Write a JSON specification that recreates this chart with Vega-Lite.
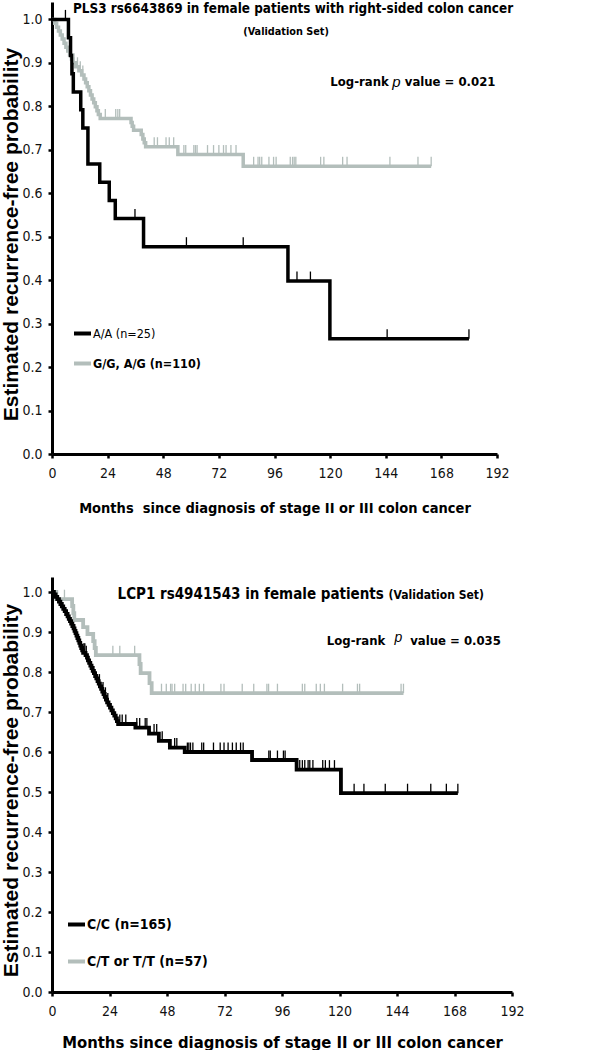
{
"$schema": "https://vega.github.io/schema/vega-lite/v6.json",
"background": "white",
"padding": {"left": 0, "top": 2, "right": 0, "bottom": 0},
"bounds": "flush",
"spacing": 123,
"config": {
  "view": {"stroke": null},
  "font": "DejaVu Sans Condensed, sans-serif",
  "axis": {"grid": false, "domainColor": "#000", "domainWidth": 3, "tickColor": "#000", "tickWidth": 2.5, "tickSize": 4,
    "labelFont": "DejaVu Sans Condensed, sans-serif", "labelFontSize": 14, "labelColor": "#111",
    "titleColor": "#000", "titleFontWeight": "bold", "labelFlush": false}
},
"resolve": {"scale": {"color": "independent"}},
"datasets": {
"top": [
{"g":"G/G, A/G (n=110)","t":0,"s":1,"c":0},
{"g":"G/G, A/G (n=110)","t":1.2,"s":0.991,"c":0},
{"g":"G/G, A/G (n=110)","t":2.0,"s":0.982,"c":0},
{"g":"G/G, A/G (n=110)","t":2.8,"s":0.973,"c":0},
{"g":"G/G, A/G (n=110)","t":3.6,"s":0.964,"c":0},
{"g":"G/G, A/G (n=110)","t":4.4,"s":0.955,"c":0},
{"g":"G/G, A/G (n=110)","t":5.2,"s":0.945,"c":0},
{"g":"G/G, A/G (n=110)","t":6.0,"s":0.936,"c":0},
{"g":"G/G, A/G (n=110)","t":6.8,"s":0.927,"c":0},
{"g":"G/G, A/G (n=110)","t":7.6,"s":0.918,"c":0},
{"g":"G/G, A/G (n=110)","t":8.4,"s":0.909,"c":0},
{"g":"G/G, A/G (n=110)","t":9.0,"s":0.9,"c":0},
{"g":"G/G, A/G (n=110)","t":9.5,"s":0.9,"c":1},
{"g":"G/G, A/G (n=110)","t":10.2,"s":0.891,"c":0},
{"g":"G/G, A/G (n=110)","t":11.0,"s":0.891,"c":1},
{"g":"G/G, A/G (n=110)","t":11.6,"s":0.882,"c":0},
{"g":"G/G, A/G (n=110)","t":12.2,"s":0.882,"c":1},
{"g":"G/G, A/G (n=110)","t":12.8,"s":0.872,"c":0},
{"g":"G/G, A/G (n=110)","t":13.3,"s":0.872,"c":1},
{"g":"G/G, A/G (n=110)","t":13.8,"s":0.863,"c":0},
{"g":"G/G, A/G (n=110)","t":14.5,"s":0.854,"c":0},
{"g":"G/G, A/G (n=110)","t":15.2,"s":0.845,"c":0},
{"g":"G/G, A/G (n=110)","t":15.9,"s":0.836,"c":0},
{"g":"G/G, A/G (n=110)","t":16.6,"s":0.826,"c":0},
{"g":"G/G, A/G (n=110)","t":17.3,"s":0.817,"c":0},
{"g":"G/G, A/G (n=110)","t":18.0,"s":0.808,"c":0},
{"g":"G/G, A/G (n=110)","t":18.7,"s":0.799,"c":0},
{"g":"G/G, A/G (n=110)","t":19.4,"s":0.79,"c":0},
{"g":"G/G, A/G (n=110)","t":20.0,"s":0.781,"c":0},
{"g":"G/G, A/G (n=110)","t":20.8,"s":0.772,"c":0},
{"g":"G/G, A/G (n=110)","t":23.0,"s":0.772,"c":1},
{"g":"G/G, A/G (n=110)","t":27.5,"s":0.772,"c":1},
{"g":"G/G, A/G (n=110)","t":28.4,"s":0.772,"c":1},
{"g":"G/G, A/G (n=110)","t":29.2,"s":0.772,"c":1},
{"g":"G/G, A/G (n=110)","t":34.1,"s":0.763,"c":0},
{"g":"G/G, A/G (n=110)","t":34.6,"s":0.754,"c":0},
{"g":"G/G, A/G (n=110)","t":35.2,"s":0.745,"c":0},
{"g":"G/G, A/G (n=110)","t":38.5,"s":0.735,"c":0},
{"g":"G/G, A/G (n=110)","t":39.2,"s":0.725,"c":0},
{"g":"G/G, A/G (n=110)","t":39.8,"s":0.716,"c":0},
{"g":"G/G, A/G (n=110)","t":40.4,"s":0.707,"c":0},
{"g":"G/G, A/G (n=110)","t":44.1,"s":0.707,"c":1},
{"g":"G/G, A/G (n=110)","t":45.5,"s":0.707,"c":1},
{"g":"G/G, A/G (n=110)","t":49.2,"s":0.707,"c":1},
{"g":"G/G, A/G (n=110)","t":50.6,"s":0.707,"c":1},
{"g":"G/G, A/G (n=110)","t":52.5,"s":0.707,"c":1},
{"g":"G/G, A/G (n=110)","t":54.3,"s":0.689,"c":0},
{"g":"G/G, A/G (n=110)","t":56.9,"s":0.689,"c":1},
{"g":"G/G, A/G (n=110)","t":57.7,"s":0.689,"c":1},
{"g":"G/G, A/G (n=110)","t":61.2,"s":0.689,"c":1},
{"g":"G/G, A/G (n=110)","t":61.9,"s":0.689,"c":1},
{"g":"G/G, A/G (n=110)","t":62.6,"s":0.689,"c":1},
{"g":"G/G, A/G (n=110)","t":67.1,"s":0.689,"c":1},
{"g":"G/G, A/G (n=110)","t":69.7,"s":0.689,"c":1},
{"g":"G/G, A/G (n=110)","t":72.0,"s":0.689,"c":1},
{"g":"G/G, A/G (n=110)","t":74.0,"s":0.689,"c":1},
{"g":"G/G, A/G (n=110)","t":75.1,"s":0.689,"c":1},
{"g":"G/G, A/G (n=110)","t":77.2,"s":0.689,"c":1},
{"g":"G/G, A/G (n=110)","t":79.4,"s":0.689,"c":1},
{"g":"G/G, A/G (n=110)","t":82.5,"s":0.662,"c":0},
{"g":"G/G, A/G (n=110)","t":87.0,"s":0.662,"c":1},
{"g":"G/G, A/G (n=110)","t":88.9,"s":0.662,"c":1},
{"g":"G/G, A/G (n=110)","t":89.6,"s":0.662,"c":1},
{"g":"G/G, A/G (n=110)","t":90.5,"s":0.662,"c":1},
{"g":"G/G, A/G (n=110)","t":93.6,"s":0.662,"c":1},
{"g":"G/G, A/G (n=110)","t":95.6,"s":0.662,"c":1},
{"g":"G/G, A/G (n=110)","t":96.7,"s":0.662,"c":1},
{"g":"G/G, A/G (n=110)","t":102.8,"s":0.662,"c":1},
{"g":"G/G, A/G (n=110)","t":103.8,"s":0.662,"c":1},
{"g":"G/G, A/G (n=110)","t":104.5,"s":0.662,"c":1},
{"g":"G/G, A/G (n=110)","t":105.2,"s":0.662,"c":1},
{"g":"G/G, A/G (n=110)","t":115.9,"s":0.662,"c":1},
{"g":"G/G, A/G (n=110)","t":117.3,"s":0.662,"c":1},
{"g":"G/G, A/G (n=110)","t":125.4,"s":0.662,"c":1},
{"g":"G/G, A/G (n=110)","t":127.3,"s":0.662,"c":1},
{"g":"G/G, A/G (n=110)","t":145.8,"s":0.662,"c":1},
{"g":"G/G, A/G (n=110)","t":157.9,"s":0.662,"c":1},
{"g":"G/G, A/G (n=110)","t":163.6,"s":0.662,"c":1},
{"g":"A/A (n=25)","t":0,"s":1,"c":0},
{"g":"A/A (n=25)","t":5.8,"s":1,"c":1},
{"g":"A/A (n=25)","t":7.1,"s":0.958,"c":0},
{"g":"A/A (n=25)","t":8.0,"s":0.917,"c":0},
{"g":"A/A (n=25)","t":8.6,"s":0.875,"c":0},
{"g":"A/A (n=25)","t":9.2,"s":0.833,"c":0},
{"g":"A/A (n=25)","t":12.4,"s":0.792,"c":0},
{"g":"A/A (n=25)","t":13.3,"s":0.75,"c":0},
{"g":"A/A (n=25)","t":15.5,"s":0.667,"c":0},
{"g":"A/A (n=25)","t":20.6,"s":0.625,"c":0},
{"g":"A/A (n=25)","t":24.7,"s":0.583,"c":0},
{"g":"A/A (n=25)","t":27.3,"s":0.542,"c":0},
{"g":"A/A (n=25)","t":35.8,"s":0.542,"c":1},
{"g":"A/A (n=25)","t":39.5,"s":0.477,"c":0},
{"g":"A/A (n=25)","t":58.0,"s":0.477,"c":1},
{"g":"A/A (n=25)","t":82.5,"s":0.477,"c":1},
{"g":"A/A (n=25)","t":101.8,"s":0.398,"c":0},
{"g":"A/A (n=25)","t":105.7,"s":0.398,"c":1},
{"g":"A/A (n=25)","t":111.5,"s":0.398,"c":1},
{"g":"A/A (n=25)","t":119.9,"s":0.265,"c":0},
{"g":"A/A (n=25)","t":144.6,"s":0.265,"c":1},
{"g":"A/A (n=25)","t":179.9,"s":0.265,"c":1}
],
"bot": [
{"g":"C/T or T/T (n=57)","t":0,"s":1,"c":0},
{"g":"C/T or T/T (n=57)","t":1.8,"s":0.982,"c":0},
{"g":"C/T or T/T (n=57)","t":5.2,"s":0.982,"c":1},
{"g":"C/T or T/T (n=57)","t":8.4,"s":0.965,"c":0},
{"g":"C/T or T/T (n=57)","t":8.9,"s":0.947,"c":0},
{"g":"C/T or T/T (n=57)","t":9.3,"s":0.93,"c":0},
{"g":"C/T or T/T (n=57)","t":13.0,"s":0.912,"c":0},
{"g":"C/T or T/T (n=57)","t":14.8,"s":0.895,"c":0},
{"g":"C/T or T/T (n=57)","t":17.2,"s":0.877,"c":0},
{"g":"C/T or T/T (n=57)","t":17.8,"s":0.86,"c":0},
{"g":"C/T or T/T (n=57)","t":18.3,"s":0.842,"c":0},
{"g":"C/T or T/T (n=57)","t":25.4,"s":0.842,"c":1},
{"g":"C/T or T/T (n=57)","t":28.3,"s":0.842,"c":1},
{"g":"C/T or T/T (n=57)","t":34.5,"s":0.842,"c":1},
{"g":"C/T or T/T (n=57)","t":36.5,"s":0.82,"c":0},
{"g":"C/T or T/T (n=57)","t":37.0,"s":0.797,"c":0},
{"g":"C/T or T/T (n=57)","t":40.7,"s":0.772,"c":0},
{"g":"C/T or T/T (n=57)","t":41.6,"s":0.747,"c":0},
{"g":"C/T or T/T (n=57)","t":45.7,"s":0.747,"c":1},
{"g":"C/T or T/T (n=57)","t":47.7,"s":0.747,"c":1},
{"g":"C/T or T/T (n=57)","t":49.5,"s":0.747,"c":1},
{"g":"C/T or T/T (n=57)","t":50.1,"s":0.747,"c":1},
{"g":"C/T or T/T (n=57)","t":51.2,"s":0.747,"c":1},
{"g":"C/T or T/T (n=57)","t":54.7,"s":0.747,"c":1},
{"g":"C/T or T/T (n=57)","t":55.8,"s":0.747,"c":1},
{"g":"C/T or T/T (n=57)","t":58.1,"s":0.747,"c":1},
{"g":"C/T or T/T (n=57)","t":59.8,"s":0.747,"c":1},
{"g":"C/T or T/T (n=57)","t":61.5,"s":0.747,"c":1},
{"g":"C/T or T/T (n=57)","t":63.3,"s":0.747,"c":1},
{"g":"C/T or T/T (n=57)","t":70.5,"s":0.747,"c":1},
{"g":"C/T or T/T (n=57)","t":71.8,"s":0.747,"c":1},
{"g":"C/T or T/T (n=57)","t":79.4,"s":0.747,"c":1},
{"g":"C/T or T/T (n=57)","t":84.2,"s":0.747,"c":1},
{"g":"C/T or T/T (n=57)","t":89.7,"s":0.747,"c":1},
{"g":"C/T or T/T (n=57)","t":90.4,"s":0.747,"c":1},
{"g":"C/T or T/T (n=57)","t":94.1,"s":0.747,"c":1},
{"g":"C/T or T/T (n=57)","t":104.5,"s":0.747,"c":1},
{"g":"C/T or T/T (n=57)","t":105.5,"s":0.747,"c":1},
{"g":"C/T or T/T (n=57)","t":110.3,"s":0.747,"c":1},
{"g":"C/T or T/T (n=57)","t":112.0,"s":0.747,"c":1},
{"g":"C/T or T/T (n=57)","t":113.7,"s":0.747,"c":1},
{"g":"C/T or T/T (n=57)","t":121.3,"s":0.747,"c":1},
{"g":"C/T or T/T (n=57)","t":127.5,"s":0.747,"c":1},
{"g":"C/T or T/T (n=57)","t":128.4,"s":0.747,"c":1},
{"g":"C/T or T/T (n=57)","t":145.7,"s":0.747,"c":1},
{"g":"C/T or T/T (n=57)","t":146.7,"s":0.747,"c":1},
{"g":"C/C (n=165)","t":0,"s":1,"c":0},
{"g":"C/C (n=165)","t":0.8,"s":0.994,"c":0},
{"g":"C/C (n=165)","t":1.5,"s":0.988,"c":0},
{"g":"C/C (n=165)","t":2.2,"s":0.982,"c":0},
{"g":"C/C (n=165)","t":2.9,"s":0.976,"c":0},
{"g":"C/C (n=165)","t":3.5,"s":0.97,"c":0},
{"g":"C/C (n=165)","t":4.1,"s":0.964,"c":0},
{"g":"C/C (n=165)","t":4.7,"s":0.958,"c":0},
{"g":"C/C (n=165)","t":5.3,"s":0.952,"c":0},
{"g":"C/C (n=165)","t":5.9,"s":0.945,"c":0},
{"g":"C/C (n=165)","t":6.5,"s":0.939,"c":0},
{"g":"C/C (n=165)","t":7.0,"s":0.933,"c":0},
{"g":"C/C (n=165)","t":7.5,"s":0.927,"c":0},
{"g":"C/C (n=165)","t":8.0,"s":0.921,"c":0},
{"g":"C/C (n=165)","t":8.5,"s":0.915,"c":0},
{"g":"C/C (n=165)","t":9.0,"s":0.909,"c":0},
{"g":"C/C (n=165)","t":9.4,"s":0.903,"c":0},
{"g":"C/C (n=165)","t":9.8,"s":0.897,"c":0},
{"g":"C/C (n=165)","t":10.2,"s":0.891,"c":0},
{"g":"C/C (n=165)","t":10.6,"s":0.885,"c":0},
{"g":"C/C (n=165)","t":11.0,"s":0.879,"c":0},
{"g":"C/C (n=165)","t":11.4,"s":0.873,"c":0},
{"g":"C/C (n=165)","t":11.8,"s":0.866,"c":0},
{"g":"C/C (n=165)","t":12.2,"s":0.86,"c":0},
{"g":"C/C (n=165)","t":12.6,"s":0.854,"c":0},
{"g":"C/C (n=165)","t":13.0,"s":0.848,"c":0},
{"g":"C/C (n=165)","t":13.3,"s":0.848,"c":1},
{"g":"C/C (n=165)","t":13.7,"s":0.848,"c":1},
{"g":"C/C (n=165)","t":14.0,"s":0.842,"c":0},
{"g":"C/C (n=165)","t":14.3,"s":0.842,"c":1},
{"g":"C/C (n=165)","t":14.6,"s":0.836,"c":0},
{"g":"C/C (n=165)","t":15.0,"s":0.829,"c":0},
{"g":"C/C (n=165)","t":15.5,"s":0.823,"c":0},
{"g":"C/C (n=165)","t":16.0,"s":0.816,"c":0},
{"g":"C/C (n=165)","t":16.5,"s":0.81,"c":0},
{"g":"C/C (n=165)","t":17.0,"s":0.803,"c":0},
{"g":"C/C (n=165)","t":17.5,"s":0.797,"c":0},
{"g":"C/C (n=165)","t":18.0,"s":0.79,"c":0},
{"g":"C/C (n=165)","t":18.5,"s":0.784,"c":0},
{"g":"C/C (n=165)","t":19.0,"s":0.777,"c":0},
{"g":"C/C (n=165)","t":19.5,"s":0.771,"c":0},
{"g":"C/C (n=165)","t":19.8,"s":0.771,"c":1},
{"g":"C/C (n=165)","t":20.0,"s":0.764,"c":0},
{"g":"C/C (n=165)","t":20.5,"s":0.758,"c":0},
{"g":"C/C (n=165)","t":21.0,"s":0.751,"c":0},
{"g":"C/C (n=165)","t":21.3,"s":0.751,"c":1},
{"g":"C/C (n=165)","t":21.5,"s":0.745,"c":0},
{"g":"C/C (n=165)","t":22.0,"s":0.738,"c":0},
{"g":"C/C (n=165)","t":22.3,"s":0.738,"c":1},
{"g":"C/C (n=165)","t":22.5,"s":0.731,"c":0},
{"g":"C/C (n=165)","t":23.0,"s":0.724,"c":0},
{"g":"C/C (n=165)","t":23.3,"s":0.724,"c":1},
{"g":"C/C (n=165)","t":23.6,"s":0.718,"c":0},
{"g":"C/C (n=165)","t":24.2,"s":0.711,"c":0},
{"g":"C/C (n=165)","t":24.8,"s":0.704,"c":0},
{"g":"C/C (n=165)","t":25.4,"s":0.697,"c":0},
{"g":"C/C (n=165)","t":26.0,"s":0.691,"c":0},
{"g":"C/C (n=165)","t":26.6,"s":0.684,"c":0},
{"g":"C/C (n=165)","t":27.1,"s":0.677,"c":0},
{"g":"C/C (n=165)","t":27.6,"s":0.67,"c":0},
{"g":"C/C (n=165)","t":28.3,"s":0.67,"c":1},
{"g":"C/C (n=165)","t":29.3,"s":0.67,"c":1},
{"g":"C/C (n=165)","t":30.8,"s":0.67,"c":1},
{"g":"C/C (n=165)","t":34.8,"s":0.661,"c":0},
{"g":"C/C (n=165)","t":35.4,"s":0.661,"c":1},
{"g":"C/C (n=165)","t":36.6,"s":0.661,"c":1},
{"g":"C/C (n=165)","t":38.9,"s":0.661,"c":1},
{"g":"C/C (n=165)","t":39.6,"s":0.661,"c":1},
{"g":"C/C (n=165)","t":40.5,"s":0.646,"c":0},
{"g":"C/C (n=165)","t":42.6,"s":0.646,"c":1},
{"g":"C/C (n=165)","t":43.7,"s":0.646,"c":1},
{"g":"C/C (n=165)","t":44.6,"s":0.628,"c":0},
{"g":"C/C (n=165)","t":46.0,"s":0.628,"c":1},
{"g":"C/C (n=165)","t":49.2,"s":0.611,"c":0},
{"g":"C/C (n=165)","t":51.2,"s":0.611,"c":1},
{"g":"C/C (n=165)","t":52.1,"s":0.611,"c":1},
{"g":"C/C (n=165)","t":55.4,"s":0.6,"c":0},
{"g":"C/C (n=165)","t":56.5,"s":0.6,"c":1},
{"g":"C/C (n=165)","t":57.1,"s":0.6,"c":1},
{"g":"C/C (n=165)","t":57.8,"s":0.6,"c":1},
{"g":"C/C (n=165)","t":58.8,"s":0.6,"c":1},
{"g":"C/C (n=165)","t":62.5,"s":0.6,"c":1},
{"g":"C/C (n=165)","t":63.3,"s":0.6,"c":1},
{"g":"C/C (n=165)","t":67.4,"s":0.6,"c":1},
{"g":"C/C (n=165)","t":70.2,"s":0.6,"c":1},
{"g":"C/C (n=165)","t":71.8,"s":0.6,"c":1},
{"g":"C/C (n=165)","t":73.5,"s":0.6,"c":1},
{"g":"C/C (n=165)","t":75.3,"s":0.6,"c":1},
{"g":"C/C (n=165)","t":76.9,"s":0.6,"c":1},
{"g":"C/C (n=165)","t":78.7,"s":0.6,"c":1},
{"g":"C/C (n=165)","t":79.8,"s":0.6,"c":1},
{"g":"C/C (n=165)","t":83.5,"s":0.58,"c":0},
{"g":"C/C (n=165)","t":90.5,"s":0.58,"c":1},
{"g":"C/C (n=165)","t":91.1,"s":0.58,"c":1},
{"g":"C/C (n=165)","t":94.1,"s":0.58,"c":1},
{"g":"C/C (n=165)","t":96.6,"s":0.58,"c":1},
{"g":"C/C (n=165)","t":97.3,"s":0.58,"c":1},
{"g":"C/C (n=165)","t":102.1,"s":0.556,"c":0},
{"g":"C/C (n=165)","t":103.4,"s":0.556,"c":1},
{"g":"C/C (n=165)","t":104.5,"s":0.556,"c":1},
{"g":"C/C (n=165)","t":105.5,"s":0.556,"c":1},
{"g":"C/C (n=165)","t":106.9,"s":0.556,"c":1},
{"g":"C/C (n=165)","t":107.6,"s":0.556,"c":1},
{"g":"C/C (n=165)","t":108.9,"s":0.556,"c":1},
{"g":"C/C (n=165)","t":113.0,"s":0.556,"c":1},
{"g":"C/C (n=165)","t":114.1,"s":0.556,"c":1},
{"g":"C/C (n=165)","t":115.8,"s":0.556,"c":1},
{"g":"C/C (n=165)","t":117.9,"s":0.556,"c":1},
{"g":"C/C (n=165)","t":120.6,"s":0.497,"c":0},
{"g":"C/C (n=165)","t":126.1,"s":0.497,"c":1},
{"g":"C/C (n=165)","t":130.2,"s":0.497,"c":1},
{"g":"C/C (n=165)","t":139.1,"s":0.497,"c":1},
{"g":"C/C (n=165)","t":148.4,"s":0.497,"c":1},
{"g":"C/C (n=165)","t":158.1,"s":0.497,"c":1},
{"g":"C/C (n=165)","t":164.6,"s":0.497,"c":1},
{"g":"C/C (n=165)","t":169.4,"s":0.497,"c":1}
]
},
"vconcat": [
{
  "width": 445, "height": 452,
  "layer": [
    {
      "data": {"name": "top"},
      "mark": {"type": "line", "interpolate": "step-after", "strokeWidth": 3.5, "strokeCap": "butt", "strokeJoin": "miter"},
      "encoding": {
        "x": {"field": "t", "type": "quantitative", "scale": {"domain": [0, 192], "nice": false},
          "axis": {"values": [0,24,48,72,96,120,144,168,192], "title": "Months\u00a0 since diagnosis of stage II or III colon cancer",
            "titleFont": "DejaVu Sans Condensed, sans-serif", "titleFontSize": 14.5, "labelPadding": 8, "titlePadding": 21}},
        "y": {"field": "s", "type": "quantitative", "scale": {"domain": [0, 1.04], "nice": false},
          "axis": {"values": [0,0.1,0.2,0.3,0.4,0.5,0.6,0.7,0.8,0.9,1.0], "format": ".1f", "title": "Estimated recurrence-free probability",
            "titleFont": "Liberation Sans, Arial, sans-serif", "titleFontSize": 21, "labelPadding": 6, "titleX": -31, "titleY": 232}},
        "color": {"field": "g", "type": "nominal",
          "scale": {"domain": ["A/A (n=25)", "G/G, A/G (n=110)"], "range": ["#000000", "#b3bebb"]},
          "legend": {"orient": "none", "legendX": 20, "legendY": 321, "title": null, "symbolType": "stroke", "symbolSize": 289,
            "symbolStrokeWidth": 4, "labelFontSize": 12.5, "labelColor": "#000", "rowPadding": 11, "labelOffset": 0,
            "labelFontWeight": {"expr": "datum.label == 'A/A (n=25)' ? 'normal' : 'bold'"}}}
      }
    },
    {
      "data": {"name": "top"},
      "transform": [{"filter": "datum.c == 1"}],
      "mark": {"type": "point", "shape": "M0,0L0,-2", "filled": false, "strokeWidth": 1.3, "size": 90, "opacity": 1},
      "encoding": {
        "x": {"field": "t", "type": "quantitative"},
        "y": {"field": "s", "type": "quantitative"},
        "color": {"field": "g", "type": "nominal", "legend": null}
      }
    },
    {
      "data": {"values": [{}]},
      "mark": {"type": "text", "text": "PLS3 rs6643869 in female patients with right-sided colon cancer", "fontSize": 13.4, "fontWeight": "bold", "align": "center", "baseline": "middle", "color": "#000"},
      "encoding": {"x": {"datum": 104, "type": "quantitative"}, "y": {"datum": 1.023, "type": "quantitative"}}
    },
    {
      "data": {"values": [{}]},
      "mark": {"type": "text", "text": "(Validation Set)", "fontSize": 10.8, "fontWeight": "bold", "align": "center", "baseline": "middle", "color": "#000"},
      "encoding": {"x": {"datum": 101, "type": "quantitative"}, "y": {"datum": 0.97, "type": "quantitative"}}
    },
    {
      "data": {"values": [{}]},
      "mark": {"type": "text", "text": "Log-rank", "fontSize": 13, "fontWeight": "bold", "align": "right", "baseline": "middle", "color": "#000"},
      "encoding": {"x": {"datum": 145.3, "type": "quantitative"}, "y": {"datum": 0.855, "type": "quantitative"}}
    },
    {
      "data": {"values": [{}]},
      "mark": {"type": "text", "text": "p", "font": "Liberation Sans, Arial, sans-serif", "fontSize": 15, "fontStyle": "italic", "align": "center", "baseline": "middle", "color": "#000"},
      "encoding": {"x": {"datum": 148.6, "type": "quantitative"}, "y": {"datum": 0.857, "type": "quantitative"}}
    },
    {
      "data": {"values": [{}]},
      "mark": {"type": "text", "text": "value = 0.021", "fontSize": 13, "fontWeight": "bold", "align": "left", "baseline": "middle", "color": "#000"},
      "encoding": {"x": {"datum": 152.2, "type": "quantitative"}, "y": {"datum": 0.855, "type": "quantitative"}}
    }
  ]
},
{
  "width": 460, "height": 415,
  "layer": [
    {
      "data": {"name": "bot"},
      "mark": {"type": "line", "interpolate": "step-after", "strokeWidth": 3.8, "strokeCap": "butt", "strokeJoin": "miter"},
      "encoding": {
        "x": {"field": "t", "type": "quantitative", "scale": {"domain": [0, 192], "nice": false},
          "axis": {"values": [0,24,48,72,96,120,144,168,192], "title": "Months since diagnosis of stage II or III colon cancer",
            "titleFont": "DejaVu Sans Condensed, sans-serif", "titleFontSize": 16.5, "labelPadding": 8, "titlePadding": 16}},
        "y": {"field": "s", "type": "quantitative", "scale": {"domain": [0, 1.0375], "nice": false},
          "axis": {"values": [0,0.1,0.2,0.3,0.4,0.5,0.6,0.7,0.8,0.9,1.0], "format": ".1f", "title": "Estimated recurrence-free probability",
            "titleFont": "Liberation Sans, Arial, sans-serif", "titleFontSize": 21, "labelPadding": 6, "titleX": -31, "titleY": 213}},
        "color": {"field": "g", "type": "nominal",
          "scale": {"domain": ["C/C (n=165)", "C/T or T/T (n=57)"], "range": ["#000000", "#b3bebb"]},
          "legend": {"orient": "none", "legendX": 14, "legendY": 337, "title": null, "symbolType": "stroke", "symbolSize": 289,
            "symbolStrokeWidth": 4, "labelFontSize": 14, "labelFontWeight": "bold", "labelColor": "#000", "rowPadding": 18, "labelOffset": 0}}
      }
    },
    {
      "data": {"name": "bot"},
      "transform": [{"filter": "datum.c == 1"}],
      "mark": {"type": "point", "shape": "M0,0L0,-2", "filled": false, "strokeWidth": 1.3, "size": 90, "opacity": 1},
      "encoding": {
        "x": {"field": "t", "type": "quantitative"},
        "y": {"field": "s", "type": "quantitative"},
        "color": {"field": "g", "type": "nominal", "legend": null}
      }
    },
    {
      "data": {"values": [{}]},
      "mark": {"type": "text", "text": "LCP1 rs4941543 in female patients", "fontSize": 15, "fontWeight": "bold", "align": "right", "baseline": "middle", "color": "#000"},
      "encoding": {"x": {"datum": 138.5, "type": "quantitative"}, "y": {"datum": 0.995, "type": "quantitative"}}
    },
    {
      "data": {"values": [{}]},
      "mark": {"type": "text", "text": "(Validation Set)", "fontSize": 12, "fontWeight": "bold", "align": "left", "baseline": "middle", "color": "#000"},
      "encoding": {"x": {"datum": 140.5, "type": "quantitative"}, "y": {"datum": 0.993, "type": "quantitative"}}
    },
    {
      "data": {"values": [{}]},
      "mark": {"type": "text", "text": "Log-rank", "fontSize": 13, "fontWeight": "bold", "align": "right", "baseline": "middle", "color": "#000"},
      "encoding": {"x": {"datum": 139.1, "type": "quantitative"}, "y": {"datum": 0.878, "type": "quantitative"}}
    },
    {
      "data": {"values": [{}]},
      "mark": {"type": "text", "text": "p", "font": "Liberation Sans, Arial, sans-serif", "fontSize": 14, "fontStyle": "italic", "align": "center", "baseline": "middle", "color": "#000"},
      "encoding": {"x": {"datum": 144.6, "type": "quantitative"}, "y": {"datum": 0.886, "type": "quantitative"}}
    },
    {
      "data": {"values": [{}]},
      "mark": {"type": "text", "text": "value = 0.035", "fontSize": 13, "fontWeight": "bold", "align": "left", "baseline": "middle", "color": "#000"},
      "encoding": {"x": {"datum": 149.5, "type": "quantitative"}, "y": {"datum": 0.878, "type": "quantitative"}}
    }
  ]
}
]
}
